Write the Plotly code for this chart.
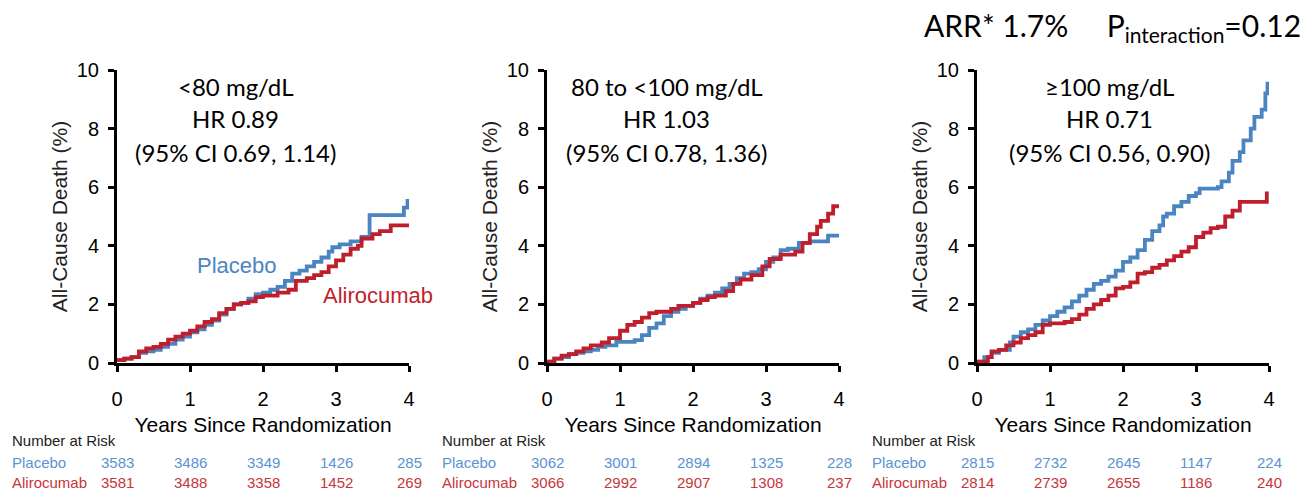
import plotly.graph_objects as go

# ---------------- data ----------------
YEARS = [0, 1, 2, 3, 4]
Y_TICKS = [0, 2, 4, 6, 8, 10]

SUBGROUPS = ["<80 mg/dL", "80 to <100 mg/dL", "≥100 mg/dL"]
HR_TEXT = ["HR 0.89", "HR 1.03", "HR 0.71"]
CI_TEXT = ["(95% CI 0.69, 1.14)", "(95% CI 0.78, 1.36)", "(95% CI 0.56, 0.90)"]

RISK_PLACEBO = [[3583, 3486, 3349, 1426, 285],
                [3062, 3001, 2894, 1325, 228],
                [2815, 2732, 2645, 1147, 224]]
RISK_ALIRO = [[3581, 3488, 3358, 1452, 269],
              [3066, 2992, 2907, 1308, 237],
              [2814, 2739, 2655, 1186, 240]]

# Panel 1: <80 mg/dL
p1_pla_t = [0, 0.1, 0.2, 0.3, 0.4, 0.5, 0.6, 0.7, 0.8, 0.9, 1.0, 1.1, 1.2, 1.3, 1.4, 1.5, 1.6, 1.7, 1.8, 1.9,
            2.0, 2.1, 2.2, 2.3, 2.4, 2.5, 2.6, 2.7, 2.8, 2.9, 2.95, 3.05, 3.2, 3.35, 3.46, 3.9, 3.93, 3.98]
p1_pla_y = [0.1, 0.15, 0.2, 0.35, 0.4, 0.45, 0.55, 0.65, 0.8, 0.9, 1.05, 1.15, 1.3, 1.45, 1.65, 1.85, 2.0, 2.05, 2.2, 2.35,
            2.4, 2.5, 2.6, 2.8, 3.05, 3.15, 3.3, 3.45, 3.6, 3.8, 3.95, 4.05, 4.15, 4.3, 5.05, 5.05, 5.3, 5.6]
p1_ali_t = [0, 0.1, 0.2, 0.3, 0.4, 0.5, 0.6, 0.7, 0.8, 0.9, 1.0, 1.1, 1.2, 1.3, 1.4, 1.5, 1.6, 1.7, 1.8, 1.9,
            2.0, 2.2, 2.35, 2.45, 2.6, 2.7, 2.8, 2.9, 3.0, 3.1, 3.2, 3.3, 3.35, 3.5, 3.6, 3.75, 4.0]
p1_ali_y = [0.1, 0.15, 0.2, 0.4, 0.5, 0.55, 0.65, 0.8, 0.9, 1.0, 1.1, 1.25, 1.4, 1.5, 1.7, 1.85, 2.0, 2.05, 2.1, 2.25,
            2.3, 2.4, 2.5, 2.8, 2.9, 3.0, 3.1, 3.3, 3.5, 3.7, 3.9, 4.0, 4.25, 4.4, 4.5, 4.7, 4.7]

# Panel 2: 80 to <100 mg/dL
p2_pla_t = [0, 0.1, 0.2, 0.3, 0.4, 0.5, 0.6, 0.7, 0.8, 0.95, 1.2, 1.3, 1.4, 1.5, 1.6, 1.7, 1.8, 1.9, 2.0, 2.1,
            2.2, 2.3, 2.4, 2.5, 2.6, 2.7, 2.8, 2.9, 3.0, 3.1, 3.2, 3.3, 3.45, 3.6, 3.85, 4.0]
p2_pla_y = [0.05, 0.15, 0.2, 0.3, 0.35, 0.4, 0.45, 0.55, 0.6, 0.72, 0.78, 0.95, 1.2, 1.35, 1.6, 1.75, 1.85, 1.95, 2.05, 2.2,
            2.3, 2.4, 2.55, 2.7, 2.9, 3.05, 3.1, 3.2, 3.45, 3.6, 3.85, 3.9, 4.1, 4.15, 4.35, 4.4]
p2_ali_t = [0, 0.1, 0.2, 0.3, 0.4, 0.5, 0.6, 0.75, 0.85, 1.0, 1.1, 1.2, 1.3, 1.4, 1.5, 1.7, 1.8, 2.0, 2.1, 2.2,
            2.3, 2.45, 2.55, 2.65, 2.8, 2.95, 3.05, 3.2, 3.4, 3.5, 3.6, 3.7, 3.75, 3.85, 3.92, 4.0]
p2_ali_y = [0.05, 0.15, 0.25, 0.3, 0.4, 0.5, 0.6, 0.7, 0.85, 1.1, 1.3, 1.4, 1.55, 1.7, 1.75, 1.85, 1.95, 2.05, 2.15, 2.25,
            2.3, 2.45, 2.7, 2.85, 3.0, 3.3, 3.55, 3.7, 3.8, 4.1, 4.4, 4.65, 4.85, 5.1, 5.35, 5.35]

# Panel 3: >=100 mg/dL
p3_pla_t = [0, 0.1, 0.2, 0.3, 0.45, 0.5, 0.6, 0.7, 0.8, 0.9, 1.0, 1.1, 1.2, 1.3, 1.4, 1.5, 1.6, 1.7, 1.8, 1.9,
            2.0, 2.1, 2.2, 2.3, 2.4, 2.5, 2.55, 2.6, 2.7, 2.8, 2.9, 3.0, 3.05, 3.3, 3.35, 3.45, 3.5, 3.6, 3.65,
            3.75, 3.8, 3.9, 3.95, 3.98]
p3_pla_y = [0.05, 0.2, 0.35, 0.45, 0.7, 0.9, 1.05, 1.15, 1.3, 1.45, 1.6, 1.75, 1.9, 2.1, 2.3, 2.5, 2.7, 2.8, 2.95, 3.15,
            3.45, 3.6, 3.85, 4.2, 4.5, 4.7, 5.0, 5.1, 5.35, 5.5, 5.7, 5.8, 5.95, 6.0, 6.2, 6.5, 6.9, 7.2, 7.6,
            8.0, 8.4, 8.65, 9.2, 9.6]
p3_ali_t = [0, 0.15, 0.2, 0.3, 0.4, 0.5, 0.6, 0.7, 0.8, 0.9, 1.0, 1.2, 1.3, 1.4, 1.5, 1.6, 1.7, 1.8, 1.9, 2.0,
            2.1, 2.2, 2.3, 2.4, 2.5, 2.6, 2.7, 2.8, 2.9, 3.0, 3.1, 3.2, 3.3, 3.4, 3.5, 3.6, 3.95, 3.97]
p3_ali_y = [0.05, 0.2, 0.4, 0.45, 0.6, 0.7, 0.85, 0.95, 1.05, 1.3, 1.35, 1.4, 1.5, 1.65, 1.85, 2.0, 2.15, 2.3, 2.55, 2.6,
            2.75, 3.05, 3.1, 3.25, 3.35, 3.5, 3.65, 3.8, 3.95, 4.3, 4.45, 4.6, 4.65, 5.0, 5.2, 5.5, 5.5, 5.85]

CURVES = [
    (p1_pla_t, p1_pla_y, p1_ali_t, p1_ali_y),
    (p2_pla_t, p2_pla_y, p2_ali_t, p2_ali_y),
    (p3_pla_t, p3_pla_y, p3_ali_t, p3_ali_y),
]

# ---------------- style ----------------
W, H = 1315, 490
BLUE = "#4a85c1"
RED = "#bf1f2c"
BLUE_TXT = "#5b93d3"
RED_TXT = "#c8353a"
ARIAL = "Liberation Sans, Arial, sans-serif"
CALIBRI = "Lato, Carlito, Calibri, sans-serif"

X_DOMAINS = [(117 / W, 409 / W), (547 / W, 839 / W), (977 / W, 1269 / W)]
Y_DOMAIN = ((H - 363) / H, (H - 70) / H)
TEXT_X = [1.63, 1.64, 1.82]

fig = go.Figure()
annotations = []

for i, (pt, py, at, ay) in enumerate(CURVES):
    n = "" if i == 0 else str(i + 1)
    fig.add_trace(go.Scatter(x=pt, y=py, mode="lines", line=dict(color=BLUE, width=3.8, shape="hv"),
                             name="Placebo", showlegend=False, xaxis="x" + n, yaxis="y" + n))
    fig.add_trace(go.Scatter(x=at, y=ay, mode="lines", line=dict(color=RED, width=3.8, shape="hv"),
                             name="Alirocumab", showlegend=False, xaxis="x" + n, yaxis="y" + n))

    fig.layout["xaxis" + n] = dict(
        domain=list(X_DOMAINS[i]), range=[0, 4], tickvals=YEARS, anchor="y" + n,
        showline=True, linecolor="black", linewidth=3, ticks="outside", ticklen=6, tickwidth=3,
        tickcolor="black", tickfont=dict(family=ARIAL, size=20, color="black"),
        ticklabelstandoff=10, showgrid=False, zeroline=False, automargin=False,
        title=dict(text="Years Since Randomization", font=dict(family=ARIAL, size=21, color="black"),
                   standoff=9))
    fig.layout["yaxis" + n] = dict(
        domain=list(Y_DOMAIN), range=[0, 10], tickvals=Y_TICKS, anchor="x" + n,
        showline=True, linecolor="black", linewidth=3, ticks="outside", ticklen=6, tickwidth=3,
        tickcolor="black", tickfont=dict(family=ARIAL, size=20, color="black"),
        ticklabelstandoff=5, showgrid=False, zeroline=False, automargin=False,
        title=dict(text="All-Cause Death (%)", font=dict(family=ARIAL, size=21, color="#222"),
                   standoff=4))

    xr, yr = "x" + n, "y" + n
    for txt, yv in zip([SUBGROUPS[i], HR_TEXT[i], CI_TEXT[i]], [9.42, 8.36, 7.2]):
        annotations.append(dict(text=txt, x=TEXT_X[i], y=yv, xref=xr, yref=yr, showarrow=False,
                                xanchor="center", yanchor="middle",
                                font=dict(family=CALIBRI, size=24, color="black")))

    # number at risk table
    x_left = (10 + 430 * i) / W
    annotations.append(dict(text="Number at Risk", x=x_left, y=(H - 440) / H, xref="paper", yref="paper",
                            showarrow=False, xanchor="left", yanchor="middle",
                            font=dict(family=ARIAL, size=15, color="#222")))
    annotations.append(dict(text="Placebo", x=x_left, y=(H - 462) / H, xref="paper", yref="paper",
                            showarrow=False, xanchor="left", yanchor="middle",
                            font=dict(family=ARIAL, size=15, color=BLUE_TXT)))
    annotations.append(dict(text="Alirocumab", x=x_left, y=(H - 482) / H, xref="paper", yref="paper",
                            showarrow=False, xanchor="left", yanchor="middle",
                            font=dict(family=ARIAL, size=15, color=RED_TXT)))
    for yr_val, v1, v2 in zip(YEARS, RISK_PLACEBO[i], RISK_ALIRO[i]):
        annotations.append(dict(text=str(v1), x=yr_val, y=(H - 462) / H, xref=xr, yref="paper",
                                showarrow=False, xanchor="center", yanchor="middle",
                                font=dict(family=ARIAL, size=15, color=BLUE_TXT)))
        annotations.append(dict(text=str(v2), x=yr_val, y=(H - 482) / H, xref=xr, yref="paper",
                                showarrow=False, xanchor="center", yanchor="middle",
                                font=dict(family=ARIAL, size=15, color=RED_TXT)))

# curve labels in panel 1
annotations.append(dict(text="Placebo", x=1.64, y=3.34, xref="x", yref="y", showarrow=False,
                        font=dict(family=ARIAL, size=22, color=BLUE)))
annotations.append(dict(text="Alirocumab", x=3.58, y=2.32, xref="x", yref="y", showarrow=False,
                        font=dict(family=ARIAL, size=22, color=RED)))

# top-right header
annotations.append(dict(text="ARR* 1.7%     P<sub>interaction</sub>=0.12", x=922 / W, y=(H - 27) / H,
                        xref="paper", yref="paper", showarrow=False, xanchor="left", yanchor="middle",
                        font=dict(family=CALIBRI, size=30, color="black")))

fig.update_layout(
    width=W, height=H, margin=dict(l=0, r=0, t=0, b=0),
    paper_bgcolor="white", plot_bgcolor="white",
    annotations=annotations, showlegend=False,
)

fig.write_html("out.html")
